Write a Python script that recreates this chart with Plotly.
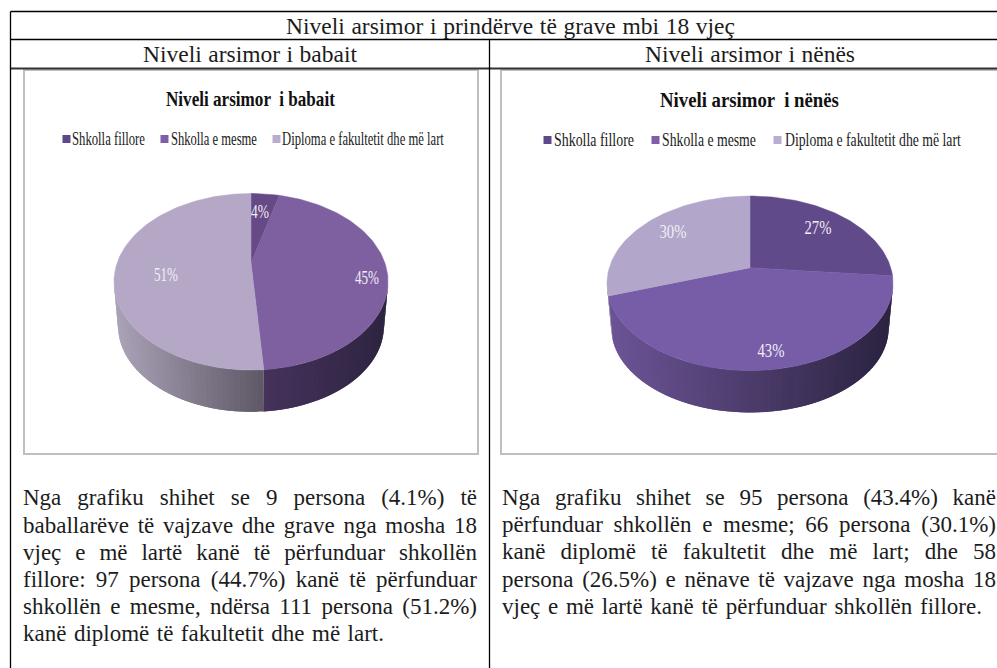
import json
import math
import plotly.graph_objects as go

# ---------- data ----------
categories = ["Shkolla fillore", "Shkolla e mesme", "Diploma e fakultetit dhe më lart"]
father_values = [4.1, 44.7, 51.2]
mother_values = [26.5, 43.4, 30.1]
father_labels = ["4%", "45%", "51%"]
mother_labels = ["27%", "43%", "30%"]

table_title = "Niveli arsimor i prindërve të grave mbi 18 vjeç"
father_title = "Niveli arsimor i babait"
mother_title = "Niveli arsimor i nënës"
father_chart_title = "Niveli arsimor  i babait"
mother_chart_title = "Niveli arsimor  i nënës"

father_text = [
    "Nga grafiku shihet se 9 persona (4.1%) të",
    "baballarëve të vajzave dhe grave nga mosha 18",
    "vjeç e më lartë kanë të përfunduar shkollën",
    "fillore: 97 persona (44.7%) kanë të përfunduar",
    "shkollën e mesme, ndërsa 111 persona (51.2%)",
    "kanë diplomë të fakultetit dhe më lart.",
]
mother_text = [
    "Nga grafiku shihet se 95 persona (43.4%) kanë",
    "përfunduar shkollën e mesme; 66 persona (30.1%)",
    "kanë diplomë të fakultetit dhe më lart; dhe 58",
    "persona (26.5%) e nënave të vajzave nga mosha 18",
    "vjeç e më lartë kanë të përfunduar shkollën fillore.",
]

# ---------- style / layout ----------
SERIF = "Liberation Serif"
father_style = dict(
    cx=251, cy=263, a=133.9, b=84.3, k=0.2126,
    top=["#664a86", "#7e60a0", "#b4a8c6"],
    side=[("#4a3864", "#4a3864"), ("#45325c", "#2e2440"), ("#aba3b8", "#5e5866")],
    label_pos=[(260, 212), (367, 278), (166, 275)],
    label_w=[18, 24, 24],
)
mother_style = dict(
    cx=750, cy=267.7, a=140.7, b=84.5, k=0.179,
    top=["#604a8a", "#775ca8", "#b2a6cb"],
    side=[("#2c2440", "#2c2440"), ("#6c5496", "#2b2340"), ("#8f84a8", "#8f84a8")],
    label_pos=[(818, 228), (771, 351), (673, 232)],
    label_w=[27, 27, 27],
)
DEPTH = 45
SHRINK = 0.97


def rim(st, theta):
    u, v = math.sin(theta), -math.cos(theta)
    w = 1 / (1 - st["k"] * v)
    return st["cx"] + st["a"] * u * w, st["cy"] + st["b"] * v * w


def low(st, p):
    return st["cx"] + (p[0] - st["cx"]) * SHRINK, st["cy"] + DEPTH + (p[1] - st["cy"]) * SHRINK


def mix(c1, c2, t):
    t = max(0, min(1, t))
    a = [int(c1[i:i + 2], 16) for i in (1, 3, 5)]
    b = [int(c2[i:i + 2], 16) for i in (1, 3, 5)]
    return "rgb(%d,%d,%d)" % tuple(round(x + (y - x) * t) for x, y in zip(a, b))


fig = go.Figure()


def add_pie(values, st, group):
    total = sum(values)
    edges = [0]
    for val in values:
        edges.append(edges[-1] + val / total * 2 * math.pi)
    vis0 = math.pi / 2 + math.asin(st["k"])
    vis1 = 3 * math.pi / 2 - math.asin(st["k"])
    # side wall, gradient strips drawn with overlap so that no seams show
    for i in range(len(values)):
        lo, hi = max(edges[i], vis0), min(edges[i + 1], vis1)
        if hi <= lo:
            continue
        n = max(1, int((hi - lo) / math.radians(2)))
        pts = [rim(st, lo + (hi - lo) * j / n) for j in range(n + 1)]
        xs = [p[0] for p in pts]
        xa, xb = min(xs), max(xs)
        for j in range(n):
            p, q = pts[j], pts[min(j + 2, n)]
            lp, lq = low(st, p), low(st, q)
            mid = (pts[j][0] + pts[j + 1][0]) / 2
            col = mix(st["side"][i][0], st["side"][i][1], (mid - xa) / max(1, xb - xa))
            fig.add_trace(go.Scatter(
                x=[p[0], q[0], lq[0], lp[0], p[0]], y=[p[1], q[1], lq[1], lp[1], p[1]],
                mode="lines", fill="toself", fillcolor=col,
                line=dict(color=col, width=0), hoverinfo="skip", showlegend=False))
    # top wedges
    for i in range(len(values)):
        n = max(4, int((edges[i + 1] - edges[i]) / math.radians(1.5)))
        pts = [rim(st, edges[i] + (edges[i + 1] - edges[i]) * j / n) for j in range(n + 1)]
        xs = [st["cx"]] + [p[0] for p in pts] + [st["cx"]]
        ys = [st["cy"]] + [p[1] for p in pts] + [st["cy"]]
        fig.add_trace(go.Scatter(
            x=xs, y=ys, mode="lines", fill="toself", fillcolor=st["top"][i],
            line=dict(color=st["top"][i], width=0.5), name=categories[i],
            legendgroup=group, showlegend=False, hoverinfo="name"))


add_pie(father_values, father_style, "father")
add_pie(mother_values, mother_style, "mother")

# legend squares
legend_x = [[66.5, 164.5, 276.5], [547.5, 655.5, 777.5]]
legend_c = [["#5f4888", "#7e5ea8", "#b8acd0"], ["#5f4888", "#7e5ea8", "#b8acd0"]]
legend_y = [139, 140]
for xs, cs, y in zip(legend_x, legend_c, legend_y):
    fig.add_trace(go.Scatter(
        x=xs, y=[y] * 3, mode="markers", hoverinfo="skip", showlegend=False,
        marker=dict(symbol="square", size=8, color=cs, line=dict(width=0))))

ann = []
fits = []


def put(text, x, y, size, width, color="#1c1c1c", bold=False, mode="fit"):
    """x = left edge, y = vertical centre of the text line, width = target width"""
    ann.append(dict(
        text=("<b>%s</b>" % text) if bold else text, x=x + width / 2, y=y,
        xref="x", yref="y", xanchor="center", yanchor="middle", showarrow=False,
        font=dict(family=SERIF, size=size, color=color)))
    fits.append(dict(x=x, w=width, mode=mode))


TITLE_FS = 23.5
put(table_title, 286, 26, TITLE_FS, 449, mode="justify")
put(father_title, 143, 54, TITLE_FS, 214, mode="justify")
put(mother_title, 645, 54, TITLE_FS, 210, mode="justify")
put(father_chart_title, 166, 98.5, 21, 169, "#111111", True)
put(mother_chart_title, 660, 99.5, 21, 179, "#111111", True)

legend_text_x = [[(72, 73), (171, 86), (282, 162)], [(554, 80), (662, 94), (785, 176)]]
legend_text_y = [139, 140]
for row, y in zip(legend_text_x, legend_text_y):
    for cat, (x, w) in zip(categories, row):
        put(cat, x, y, 18, w, "#222222")

for st, labels in ((father_style, father_labels), (mother_style, mother_labels)):
    for lab, (x, y), w in zip(labels, st["label_pos"], st["label_w"]):
        put(lab, x - w / 2, y, 18, w, "#f1eef6")

BODY_FS = 23
father_x = [(23, 454)] * 5 + [(23, 361)]
father_base = [504, 531.5, 559, 586, 613, 640]
for line, (x, w), b in zip(father_text, father_x, father_base):
    put(line, x, b - 6.5, BODY_FS, w, mode="justify")
mother_x = [(502, 494)] * 4 + [(502, 480)]
mother_base = [504, 531, 558, 586, 613]
for line, (x, w), b in zip(mother_text, mother_x, mother_base):
    put(line, x, b - 6.5, BODY_FS, w, mode="justify")


def seg(x0, y0, x1, y1, color="#000000", width=1.3):
    return dict(type="line", xref="x", yref="y", x0=x0, y0=y0, x1=x1, y1=y1,
                line=dict(color=color, width=width), layer="above")


def box(x0, y0, x1, y1):
    return dict(type="rect", xref="x", yref="y", x0=x0, y0=y0, x1=x1, y1=y1,
                line=dict(color="#bfbfbf", width=2), fillcolor="rgba(0,0,0,0)", layer="below")


shapes = [
    seg(10.5, 11.5, 997, 11.5),
    seg(10.5, 39.5, 997, 39.5),
    seg(10.5, 68.5, 997, 68.5, "#333333", 1.8),
    seg(10.5, 11.5, 10.5, 668),
    seg(489.5, 39.5, 489.5, 668),
    box(24, 70, 478, 454),
    box(501, 70, 1005, 454),
]

fig.update_layout(
    width=997, height=668, autosize=False, showlegend=False,
    margin=dict(l=0, r=0, t=0, b=0),
    paper_bgcolor="white", plot_bgcolor="white",
    xaxis=dict(range=[0, 997], visible=False, fixedrange=True),
    yaxis=dict(range=[668, 0], visible=False, fixedrange=True),
    annotations=ann, shapes=shapes,
)

post = """
document.body.style.margin='0';
var fits=%s;
var nodes=document.querySelectorAll('.annotation-text');
nodes.forEach(function(t,i){
  var f=fits[i]; if(!f) return;
  var sx=t.getScreenCTM().e;
  t.setAttribute('text-anchor','start');
  if(f.mode==='justify'){
    t.setAttribute('x', f.x - sx);
    var n=(t.textContent.match(/ /g)||[]).length;
    t.style.whiteSpace='pre';
    var len=t.getComputedTextLength();
    if(n>0) t.style.wordSpacing=((f.w-len)/n)+'px';
  } else {
    t.setAttribute('x', 0);
    t.style.whiteSpace='pre';
    var l2=t.getComputedTextLength();
    t.setAttribute('transform','translate('+(f.x-sx)+',0) scale('+(f.w/l2)+',1)');
  }
});
""" % json.dumps(fits)

fig.write_html("out.html", config=dict(displayModeBar=False), post_script=post)
